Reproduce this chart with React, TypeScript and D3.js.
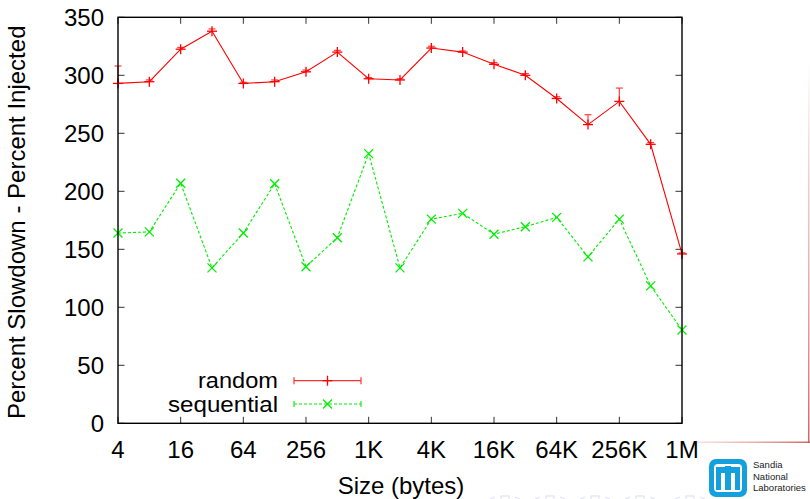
import React from "react";
import * as d3 from "d3";

// message sizes in bytes (2^2 .. 2^20)
const sizes = [
  4, 8, 16, 32, 64, 128, 256, 512, 1024, 2048, 4096, 8192, 16384, 32768,
  65536, 131072, 262144, 524288, 1048576,
];
const randomVals = [
  293, 294.5, 322.5, 338, 293, 294.5, 303, 320, 297, 296, 323.5, 320, 309.5,
  300, 280, 257.5, 277.5, 240.5, 146,
];
const randomHi = [
  308, 296, 324, 340, 294, 296, 304.5, 321.5, 298, 297, 325, 321, 311, 301.5,
  281.5, 266, 289, 242, 147,
];
const sequentialVals = [
  164, 165, 207, 134, 164, 206.5, 135, 160, 232.5, 134, 176, 181, 163, 169.5,
  177.5, 143.5, 176, 118.5, 80.5,
];
const tickSizes = [4, 16, 64, 256, 1024, 4096, 16384, 65536, 262144, 1048576];
const tickLabels = ["4", "16", "64", "256", "1K", "4K", "16K", "64K", "256K", "1M"];
const yTicks = [0, 50, 100, 150, 200, 250, 300, 350];

const W = 810;
const H = 499;
const margin = { top: 17.3, right: 128, bottom: 75.7, left: 118 };
const font = "'Liberation Sans', Arial, Helvetica, sans-serif";

const App = () => {
  const x = d3
    .scaleLog()
    .base(2)
    .domain([4, 1048576])
    .range([margin.left, W - margin.right]);
  const y = d3
    .scaleLinear()
    .domain([0, 350])
    .range([H - margin.bottom, margin.top]);

  const line = d3
    .line<number>()
    .x((d, i) => x(sizes[i]))
    .y((d) => y(d));

  const x0 = x.range()[0];
  const x1 = x.range()[1];
  const y0 = y.range()[0];
  const y1 = y.range()[1];
  const tk = 6.5;

  const plus = (cx: number, cy: number, key: string, r = 5) => (
    <g key={key} stroke="#ff0000" strokeWidth={1.3}>
      <line x1={cx - r} x2={cx + r} y1={cy} y2={cy} />
      <line x1={cx} x2={cx} y1={cy - r} y2={cy + r} />
    </g>
  );
  const cross = (cx: number, cy: number, key: string, r = 4.5) => (
    <g key={key} stroke="#00ee00" strokeWidth={1.3}>
      <line x1={cx - r} x2={cx + r} y1={cy - r} y2={cy + r} />
      <line x1={cx - r} x2={cx + r} y1={cy + r} y2={cy - r} />
    </g>
  );

  // legend
  const legX1 = 294;
  const legX2 = 361;
  const legR = 380.7;
  const legS = 404;

  return (
    <div style={{ position: "fixed", left: 0, top: 0 }}>
      <svg width={W} height={H} style={{ display: "block", background: "#fff" }}>
        {/* slide frame fragment */}
        <defs>
          <linearGradient id="fv" x1="0" y1="0" x2="0" y2="1">
            <stop offset="0" stopColor="#e8a0a0" stopOpacity={0} />
            <stop offset="0.3" stopColor="#e0a0a0" stopOpacity={0.5} />
            <stop offset="1" stopColor="#cc5555" stopOpacity={0.9} />
          </linearGradient>
          <linearGradient id="fh" x1="0" y1="0" x2="1" y2="0">
            <stop offset="0" stopColor="#eeb0b0" stopOpacity={0.4} />
            <stop offset="1" stopColor="#cc5555" stopOpacity={0.9} />
          </linearGradient>
        </defs>
        <rect x={808} y={60} width={1.5} height={383} fill="url(#fv)" />
        <rect x={697} y={441.5} width={113} height={1.5} fill="url(#fh)" />

        {/* ticks */}
        <g stroke="#333" strokeWidth={1}>
          {tickSizes.map((s) => (
            <g key={"xt" + s}>
              <line x1={x(s)} x2={x(s)} y1={y0} y2={y0 - tk} />
              <line x1={x(s)} x2={x(s)} y1={y1} y2={y1 + tk} />
            </g>
          ))}
          {yTicks.map((v) => (
            <g key={"yt" + v}>
              <line x1={x0} x2={x0 + tk} y1={y(v)} y2={y(v)} />
              <line x1={x1} x2={x1 - tk} y1={y(v)} y2={y(v)} />
            </g>
          ))}
        </g>

        {/* tick labels */}
        <g fontFamily={font} fontSize={24} fill="#000">
          {tickSizes.map((s, i) => (
            <text key={"xl" + s} x={x(s)} y={458} textAnchor="middle">
              {tickLabels[i]}
            </text>
          ))}
          {yTicks.map((v) => (
            <text key={"yl" + v} x={104} y={y(v) + 8.5} textAnchor="end">
              {v}
            </text>
          ))}
          <text x={401} y={494} textAnchor="middle">
            Size (bytes)
          </text>
          <text
            transform={`translate(25,${(y0 + y1) / 2 + 2}) rotate(-90)`}
            textAnchor="middle"
          >
            Percent Slowdown - Percent Injected
          </text>
        </g>

        {/* sequential */}
        <path
          d={line(sequentialVals) || ""}
          fill="none"
          stroke="#00ee00"
          strokeWidth={1.1}
          strokeDasharray="3,2"
        />
        {sequentialVals.map((v, i) => cross(x(sizes[i]), y(v), "s" + i))}

        {/* random */}
        <path d={line(randomVals) || ""} fill="none" stroke="#ff0000" strokeWidth={1.1} />
        <g stroke="#ff0000" strokeWidth={1.2} opacity={0.75}>
          {randomHi.map((h, i) => {
            const cx = x(sizes[i]);
            return (
              <g key={"e" + i}>
                <line x1={cx} x2={cx} y1={y(randomVals[i])} y2={y(h)} />
                <line x1={cx - 3.5} x2={cx + 3.5} y1={y(h)} y2={y(h)} />
              </g>
            );
          })}
        </g>
        {randomVals.map((v, i) => plus(x(sizes[i]), y(v), "r" + i))}

        {/* border */}
        <rect
          x={x0}
          y={y1}
          width={x1 - x0}
          height={y0 - y1}
          fill="none"
          stroke="#000"
          strokeWidth={1.4}
        />

        {/* legend */}
        <g fontFamily={font} fontSize={22} fill="#000">
          <text x={278} y={legR + 7.5} textAnchor="end" textLength={80} lengthAdjust="spacingAndGlyphs">
            random
          </text>
          <text x={278} y={legS + 7.5} textAnchor="end" textLength={110} lengthAdjust="spacingAndGlyphs">
            sequential
          </text>
        </g>
        <g stroke="#ff0000" strokeWidth={1.2} opacity={0.8}>
          <line x1={legX1} x2={legX2} y1={legR} y2={legR} />
          <line x1={legX1} x2={legX1} y1={legR - 3.5} y2={legR + 3.5} />
          <line x1={legX2} x2={legX2} y1={legR - 3.5} y2={legR + 3.5} />
        </g>
        {plus((legX1 + legX2) / 2, legR, "lr")}
        <g stroke="#00ee00" strokeWidth={1.1}>
          <line x1={legX1} x2={legX2} y1={legS} y2={legS} strokeDasharray="3,2" />
          <line x1={legX1} x2={legX1} y1={legS - 3} y2={legS + 3} />
          <line x1={legX2} x2={legX2} y1={legS - 3} y2={legS + 3} />
        </g>
        {cross((legX1 + legX2) / 2, legS, "ls")}

        {/* faint navigation symbols */}
        <g fill="none" stroke="#dcdcf4" strokeWidth={1}>
          {[495, 540, 585, 630, 680].map((nx) => (
            <g key={"n" + nx}>
              <path d={`M${nx},497 l-5,2`} />
              <rect x={nx + 6} y={496} width={8} height={4} />
              <path d={`M${nx + 20},497 l5,2`} />
            </g>
          ))}
        </g>

        {/* Sandia logo */}
        <rect x={709} y={459} width={38} height={38} rx={7} fill="#14a0dc" />
        <rect x={714} y={464} width={28} height={28} rx={4} fill="#fff" />
        <g fill="#14a0dc">
          <rect x={716} y={467} width={24} height={6} />
          <rect x={725} y={466} width={6} height={24} />
          <rect x={716} y={473} width={5} height={17} />
          <rect x={735} y={473} width={5} height={17} />
        </g>
        <g fontFamily={font} fontSize={9.5} fill="#222">
          <text x={753} y={468}>Sandia</text>
          <text x={753} y={479.5}>National</text>
          <text x={753} y={491}>Laboratories</text>
        </g>
      </svg>
    </div>
  );
};

export default App;
